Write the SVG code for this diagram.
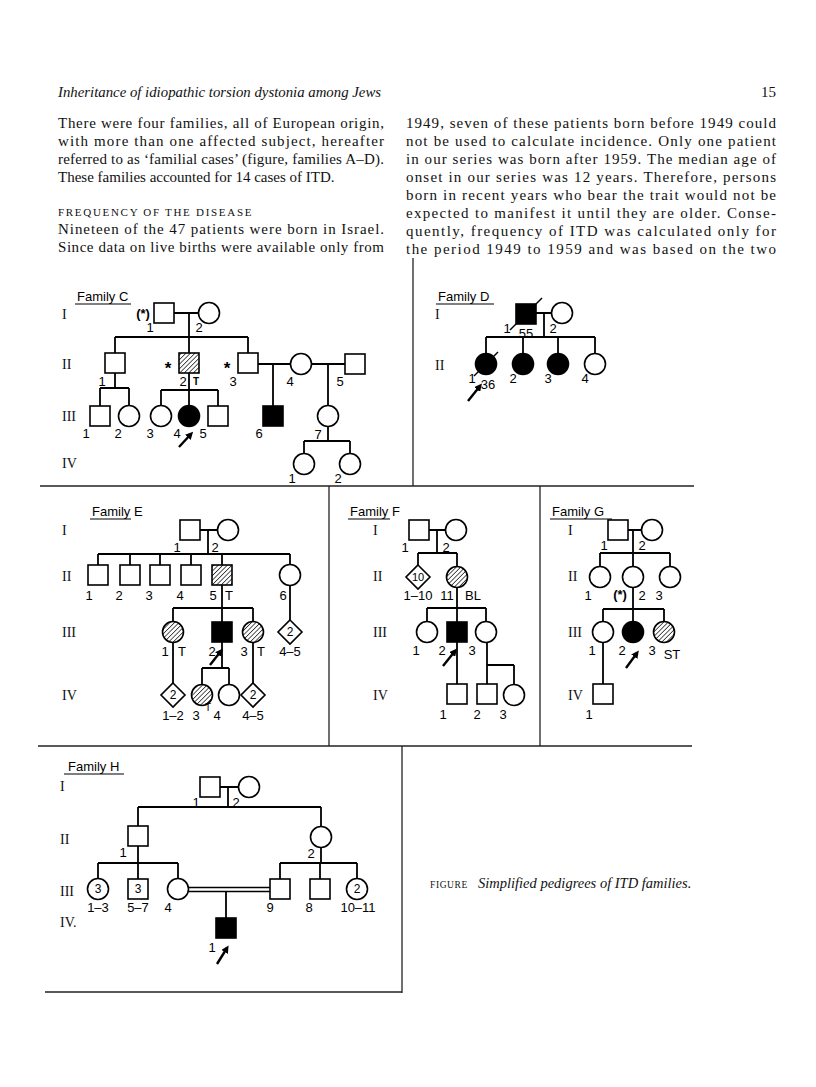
<svg xmlns="http://www.w3.org/2000/svg" width="816" height="1087" viewBox="0 0 816 1087">
<defs>
<pattern id="hatch" width="3.2" height="3.2" patternUnits="userSpaceOnUse" patternTransform="rotate(45)">
<rect width="3.2" height="3.2" fill="#fff"/>
<line x1="0" y1="0" x2="0" y2="3.2" stroke="#000" stroke-width="1.3"/>
</pattern>
<marker id="ah" viewBox="0 0 10 10" refX="6" refY="5" markerWidth="3.2" markerHeight="3.2" orient="auto">
<path d="M0,0 L10,5 L0,10 z" fill="#000"/>
</marker>
<style>
.body{font-family:"Liberation Serif","Times New Roman",serif;font-size:15px;fill:#111}
.ital{font-family:"Liberation Serif","Times New Roman",serif;font-style:italic;font-size:14.8px;fill:#111}
.sc{font-family:"Liberation Serif","Times New Roman",serif;font-size:11px;letter-spacing:1.7px;fill:#111}
.gen{font-family:"Liberation Serif","Times New Roman",serif;font-size:14px;fill:#111}
.num{font-family:"Liberation Sans",Arial,sans-serif;font-size:13px;fill:#000;text-anchor:middle}
.in{font-family:"Liberation Sans",Arial,sans-serif;font-size:12px;fill:#000;text-anchor:middle}
.fam{font-family:"Liberation Sans",Arial,sans-serif;font-size:13px;fill:#000}
.ast{font-family:"Liberation Sans",Arial,sans-serif;font-size:17px;font-weight:bold;fill:#000;text-anchor:middle}
.sm{font-family:"Liberation Sans",Arial,sans-serif;font-size:10px;font-weight:bold;fill:#000;text-anchor:middle}
.ln{stroke:#000;stroke-width:1.8;fill:none}
.ul{stroke:#000;stroke-width:1.1;fill:none}
.bd{stroke:#222;stroke-width:1.3;fill:none}
.o{fill:#fff;stroke:#000;stroke-width:1.6}
.f{fill:#000;stroke:#000;stroke-width:1.6}
.h{fill:url(#hatch);stroke:#000;stroke-width:1.6}
.arr{stroke:#000;stroke-width:2.4;fill:none;marker-end:url(#ah)}
</style>
</defs>
<rect width="816" height="1087" fill="#fff"/>

<g id="page-text">
<text class="ital" x="58" y="97">Inheritance of idiopathic torsion dystonia among Jews</text>
<text class="body" x="776" y="97" text-anchor="end">15</text>
<text class="body" x="58" y="128" textLength="326" lengthAdjust="spacing">There were four families, all of European origin,</text>
<text class="body" x="58" y="146" textLength="326" lengthAdjust="spacing">with more than one affected subject, hereafter</text>
<text class="body" x="58" y="164" textLength="326" lengthAdjust="spacing">referred to as ‘familial cases’ (figure, families A–D).</text>
<text class="body" x="58" y="182">These families accounted for 14 cases of ITD.</text>
<text class="sc" x="58" y="216">FREQUENCY OF THE DISEASE</text>
<text class="body" x="58" y="234" textLength="326" lengthAdjust="spacing">Nineteen of the 47 patients were born in Israel.</text>
<text class="body" x="58" y="252" textLength="326" lengthAdjust="spacing">Since data on live births were available only from</text>
<text class="body" x="406" y="128" textLength="370" lengthAdjust="spacing">1949, seven of these patients born before 1949 could</text>
<text class="body" x="406" y="146" textLength="370" lengthAdjust="spacing">not be used to calculate incidence. Only one patient</text>
<text class="body" x="406" y="164" textLength="370" lengthAdjust="spacing">in our series was born after 1959. The median age of</text>
<text class="body" x="406" y="182" textLength="370" lengthAdjust="spacing">onset in our series was 12 years. Therefore, persons</text>
<text class="body" x="406" y="200" textLength="370" lengthAdjust="spacing">born in recent years who bear the trait would not be</text>
<text class="body" x="406" y="218" textLength="370" lengthAdjust="spacing">expected to manifest it until they are older. Conse-</text>
<text class="body" x="406" y="236" textLength="370" lengthAdjust="spacing">quently, frequency of ITD was calculated only for</text>
<text class="body" x="406" y="254" textLength="370" lengthAdjust="spacing">the period 1949 to 1959 and was based on the two</text>
</g>

<g id="panel-borders">
<line class="bd" x1="413" y1="258" x2="413" y2="486"/>
<line class="bd" x1="40" y1="486" x2="694" y2="486"/>
<line class="bd" x1="329" y1="486" x2="329" y2="746"/>
<line class="bd" x1="540" y1="486" x2="540" y2="746"/>
<line class="bd" x1="38" y1="746" x2="692" y2="746"/>
<line class="bd" x1="402" y1="746" x2="402" y2="993"/>
<line class="bd" x1="45" y1="992" x2="402" y2="992"/>
</g>

<g id="connectors">
<path class="ln" d="M174,313H198.5 M189,313V337 M115,337H248 M115,337V353 M189,337V353 M248,337V353"/>
<path class="ln" d="M258,364H290.5 M311.5,364H345 M273,364V406 M328,364V405.5 M328,426.5V441 M304,441H350 M304,441V453.5 M350,441V453.5"/>
<path class="ln" d="M115,373V388 M100,388H129 M100,388V406 M129,388V405.5 M189,373V390 M161,390H218 M161,390V405.5 M189,390V405.5 M218,390V406"/>
<path class="ln" d="M536,313H551.5 M544,313V337 M486,337H595 M486,337V353.5 M523,337V353.5 M558,337V353.5 M595,337V353.5"/>
<path class="ln" d="M200,530H217.5 M208,530V554 M98,554H290 M98,554V565 M130,554V565 M160,554V565 M191,554V565 M222,554V565 M290,554V564.5"/>
<path class="ln" d="M222,585V608 M173,608H253 M173,608V621.5 M222,608V622 M253,608V621.5 M290,585.5V620"/>
<path class="ln" d="M173,642.5V683 M222,642V668 M202,668H229 M202,668V684.5 M229,668V684.5 M253,642.5V683"/>
<path class="ln" d="M429,530H445.5 M437,530V553 M418,553H457 M418,553V565 M457,553V566.5"/>
<path class="ln" d="M457,587.5V608 M427,608H486 M427,608V621.5 M457,608V622 M486,608V621.5"/>
<path class="ln" d="M457,642V684 M487,642.5V665 M487,665H514 M487,665V684 M514,665V684.5"/>
<path class="ln" d="M628,530H641.5 M633,530V553 M600,553H670 M600,553V566.5 M633,553V566.5 M670,553V566.5"/>
<path class="ln" d="M633,587.5V609 M603,609H664 M603,609V621.5 M633,609V621.5 M664,609V621.5 M603,642.5V684"/>
<path class="ln" d="M220,787H238.5 M228,787V807 M138,807H321 M138,807V826 M321,807V826.5"/>
<path class="ln" d="M138,846V863 M98,863H178 M98,863V878.5 M138,863V879 M178,863V878.5"/>
<path class="ln" d="M321,847.5V863 M280,863H357 M280,863V879 M320,863V879 M357,863V878.5"/>
<path class="ln" d="M188.5,887.5H270 M188.5,891.5H270" style="stroke-width:1.5"/>
<path class="ln" d="M226,891.5V918"/>
</g>

<g id="family-C">
<text class="fam" x="77" y="301">Family C</text>
<line class="ul" x1="75" y1="304" x2="131" y2="304"/>
<text class="gen" x="62" y="319">I</text>
<text class="gen" x="62" y="369">II</text>
<text class="gen" x="62" y="421">III</text>
<text class="gen" x="62" y="468">IV</text>
<rect class="o" x="154" y="303" width="20" height="20"/>
<circle class="o" cx="209" cy="313" r="10.5"/>
<text class="num" x="143" y="318" style="font-weight:bold">(*)</text>
<text class="num" x="150" y="332">1</text>
<text class="num" x="199" y="332">2</text>
<rect class="o" x="105" y="353" width="20" height="20"/>
<rect class="h" x="179" y="353" width="20" height="20"/>
<rect class="o" x="238" y="353" width="20" height="20"/>
<circle class="o" cx="301" cy="364" r="10.5"/>
<rect class="o" x="345" y="354" width="20" height="20"/>
<text class="ast" x="168" y="374">*</text>
<text class="ast" x="227" y="374">*</text>
<text class="num" x="102" y="386">1</text>
<text class="num" x="183" y="386">2</text>
<text class="sm" x="196" y="385">T</text>
<text class="num" x="233" y="386">3</text>
<text class="num" x="290" y="386">4</text>
<text class="num" x="340" y="386">5</text>
<rect class="o" x="90" y="406" width="20" height="20"/>
<circle class="o" cx="129" cy="416" r="10.5"/>
<circle class="o" cx="161" cy="416" r="10.5"/>
<circle class="f" cx="189" cy="416" r="10.5"/>
<rect class="o" x="208" y="406" width="20" height="20"/>
<rect class="f" x="263" y="406" width="20" height="20"/>
<circle class="o" cx="328" cy="416" r="10.5"/>
<text class="num" x="86" y="438">1</text>
<text class="num" x="118" y="438">2</text>
<text class="num" x="150" y="438">3</text>
<text class="num" x="177" y="438">4</text>
<text class="num" x="203" y="438">5</text>
<text class="num" x="259" y="438">6</text>
<text class="num" x="318" y="439">7</text>
<line class="arr" x1="179" y1="447" x2="191" y2="434"/>
<circle class="o" cx="304" cy="464" r="10.5"/>
<circle class="o" cx="350" cy="464" r="10.5"/>
<text class="num" x="292" y="483">1</text>
<text class="num" x="338" y="483">2</text>
</g>

<g id="family-D">
<text class="fam" x="438" y="301">Family D</text>
<line class="ul" x1="436" y1="304" x2="494" y2="304"/>
<text class="gen" x="435" y="319">I</text>
<text class="gen" x="435" y="370">II</text>
<rect class="f" x="516" y="304" width="20" height="20"/>
<line class="ln" x1="510" y1="330" x2="542" y2="298" style="stroke-width:1.5"/>
<circle class="o" cx="562" cy="313" r="10.5"/>
<text class="num" x="507" y="333">1</text>
<text class="num" x="526" y="338">55</text>
<text class="num" x="553" y="333">2</text>
<circle class="f" cx="486" cy="364" r="10.5"/>
<line class="ln" x1="474" y1="376" x2="498" y2="352" style="stroke-width:1.5"/>
<circle class="f" cx="523" cy="364" r="10.5"/>
<circle class="f" cx="558" cy="364" r="10.5"/>
<circle class="o" cx="595" cy="364" r="10.5"/>
<text class="num" x="472" y="383">1</text>
<text class="num" x="488" y="389">36</text>
<text class="num" x="513" y="383">2</text>
<text class="num" x="548" y="383">3</text>
<text class="num" x="585" y="383">4</text>
<line class="arr" x1="468" y1="401" x2="480" y2="386"/>
</g>

<g id="family-E">
<text class="fam" x="92" y="516">Family E</text>
<line class="ul" x1="90" y1="519" x2="131" y2="519"/>
<text class="gen" x="62" y="535">I</text>
<text class="gen" x="62" y="581">II</text>
<text class="gen" x="62" y="637">III</text>
<text class="gen" x="62" y="700">IV</text>
<rect class="o" x="180" y="520" width="20" height="20"/>
<circle class="o" cx="228" cy="530" r="10.5"/>
<text class="num" x="177" y="552">1</text>
<text class="num" x="215" y="552">2</text>
<rect class="o" x="88" y="565" width="20" height="20"/>
<rect class="o" x="120" y="565" width="20" height="20"/>
<rect class="o" x="150" y="565" width="20" height="20"/>
<rect class="o" x="181" y="565" width="20" height="20"/>
<rect class="h" x="212" y="565" width="20" height="20"/>
<circle class="o" cx="290" cy="575" r="10.5"/>
<text class="num" x="89" y="600">1</text>
<text class="num" x="119" y="600">2</text>
<text class="num" x="149" y="600">3</text>
<text class="num" x="180" y="600">4</text>
<text class="num" x="213" y="600">5</text>
<text class="num" x="229" y="600">T</text>
<text class="num" x="283" y="600">6</text>
<circle class="h" cx="173" cy="632" r="10.5"/>
<rect class="f" x="212" y="622" width="20" height="20"/>
<circle class="h" cx="253" cy="632" r="10.5"/>
<polygon class="o" points="290,620 302,632 290,644 278,632"/>
<text class="in" x="290" y="636">2</text>
<text class="num" x="165" y="656">1</text>
<text class="num" x="182" y="656">T</text>
<text class="num" x="212" y="656">2</text>
<text class="num" x="244" y="656">3</text>
<text class="num" x="261" y="656">T</text>
<text class="num" x="290" y="656">4–5</text>
<line class="arr" x1="210" y1="665" x2="221" y2="651"/>
<polygon class="o" points="173,683 185,695 173,707 161,695"/>
<text class="in" x="173" y="699">2</text>
<circle class="h" cx="202" cy="695" r="10.5"/>
<circle class="o" cx="229" cy="695" r="10.5"/>
<polygon class="o" points="253,683 265,695 253,707 241,695"/>
<text class="in" x="253" y="699">2</text>
<text class="num" x="173" y="720">1–2</text>
<text class="num" x="196" y="720">3</text>
<text class="sm" x="208" y="711" style="font-weight:normal">T</text>
<text class="num" x="217" y="720">4</text>
<text class="num" x="253" y="720">4–5</text>
</g>

<g id="family-F">
<text class="fam" x="350" y="516">Family F</text>
<line class="ul" x1="348" y1="519" x2="390" y2="519"/>
<text class="gen" x="373" y="535">I</text>
<text class="gen" x="373" y="581">II</text>
<text class="gen" x="373" y="637">III</text>
<text class="gen" x="373" y="700">IV</text>
<rect class="o" x="409" y="520" width="20" height="20"/>
<circle class="o" cx="456" cy="530" r="10.5"/>
<text class="num" x="405" y="552">1</text>
<text class="num" x="446" y="552">2</text>
<polygon class="o" points="418,565 430,577 418,589 406,577"/>
<text class="in" x="418" y="581" style="font-size:11px">10</text>
<circle class="h" cx="457" cy="577" r="10.5"/>
<text class="num" x="418" y="600">1–10</text>
<text class="num" x="447" y="600">11</text>
<text class="num" x="473" y="600">BL</text>
<circle class="o" cx="427" cy="632" r="10.5"/>
<rect class="f" x="447" y="622" width="20" height="20"/>
<circle class="o" cx="486" cy="632" r="10.5"/>
<text class="num" x="416" y="655">1</text>
<text class="num" x="442" y="655">2</text>
<text class="num" x="472" y="655">3</text>
<line class="arr" x1="443" y1="666" x2="455" y2="651"/>
<rect class="o" x="447" y="684" width="20" height="20"/>
<rect class="o" x="477" y="684" width="20" height="20"/>
<circle class="o" cx="514" cy="695" r="10.5"/>
<text class="num" x="443" y="719">1</text>
<text class="num" x="477" y="719">2</text>
<text class="num" x="503" y="719">3</text>
</g>

<g id="family-G">
<text class="fam" x="552" y="516">Family G</text>
<line class="ul" x1="550" y1="519" x2="612" y2="519"/>
<text class="gen" x="568" y="535">I</text>
<text class="gen" x="568" y="581">II</text>
<text class="gen" x="568" y="637">III</text>
<text class="gen" x="568" y="700">IV</text>
<rect class="o" x="608" y="520" width="20" height="20"/>
<circle class="o" cx="652" cy="530" r="10.5"/>
<text class="num" x="604" y="550">1</text>
<text class="num" x="642" y="550">2</text>
<circle class="o" cx="600" cy="577" r="10.5"/>
<circle class="o" cx="633" cy="577" r="10.5"/>
<circle class="o" cx="670" cy="577" r="10.5"/>
<text class="num" x="588" y="600">1</text>
<text class="num" x="620" y="599" style="font-weight:bold">(*)</text>
<text class="num" x="642" y="600">2</text>
<text class="num" x="659" y="600">3</text>
<circle class="o" cx="603" cy="632" r="10.5"/>
<circle class="f" cx="633" cy="632" r="10.5"/>
<circle class="h" cx="664" cy="632" r="10.5"/>
<text class="num" x="592" y="655">1</text>
<text class="num" x="622" y="655">2</text>
<text class="num" x="652" y="655">3</text>
<text class="num" x="672" y="659">ST</text>
<line class="arr" x1="626" y1="668" x2="637" y2="653"/>
<rect class="o" x="593" y="684" width="20" height="20"/>
<text class="num" x="589" y="719">1</text>
</g>

<g id="family-H">
<text class="fam" x="68" y="771">Family H</text>
<line class="ul" x1="64" y1="774" x2="124" y2="774"/>
<text class="gen" x="60" y="791">I</text>
<text class="gen" x="60" y="844">II</text>
<text class="gen" x="60" y="896">III</text>
<text class="gen" x="60" y="927">IV.</text>
<rect class="o" x="200" y="777" width="20" height="20"/>
<circle class="o" cx="249" cy="787" r="10.5"/>
<text class="num" x="196" y="807">1</text>
<text class="num" x="236" y="807">2</text>
<rect class="o" x="128" y="826" width="20" height="20"/>
<circle class="o" cx="321" cy="837" r="10.5"/>
<text class="num" x="123" y="857">1</text>
<text class="num" x="311" y="858">2</text>
<circle class="o" cx="98" cy="889" r="10.5"/>
<text class="in" x="98" y="893">3</text>
<rect class="o" x="128" y="879" width="20" height="20"/>
<text class="in" x="138" y="893">3</text>
<circle class="o" cx="178" cy="889" r="10.5"/>
<rect class="o" x="270" y="879" width="20" height="20"/>
<rect class="o" x="310" y="879" width="20" height="20"/>
<circle class="o" cx="357" cy="889" r="10.5"/>
<text class="in" x="357" y="893">2</text>
<text class="num" x="98" y="912">1–3</text>
<text class="num" x="138" y="912">5–7</text>
<text class="num" x="168" y="912">4</text>
<text class="num" x="270" y="912">9</text>
<text class="num" x="309" y="912">8</text>
<text class="num" x="358" y="912">10–11</text>
<rect class="f" x="216" y="918" width="20" height="20"/>
<text class="num" x="212" y="952">1</text>
<line class="arr" x1="217" y1="964" x2="227" y2="948"/>
</g>

<g id="caption">
<text class="sc" x="430" y="888" style="font-size:9.5px;letter-spacing:0.6px">FIGURE</text>
<text class="ital" x="478" y="888" style="font-size:14.5px">Simplified pedigrees of ITD families.</text>
</g>
</svg>
